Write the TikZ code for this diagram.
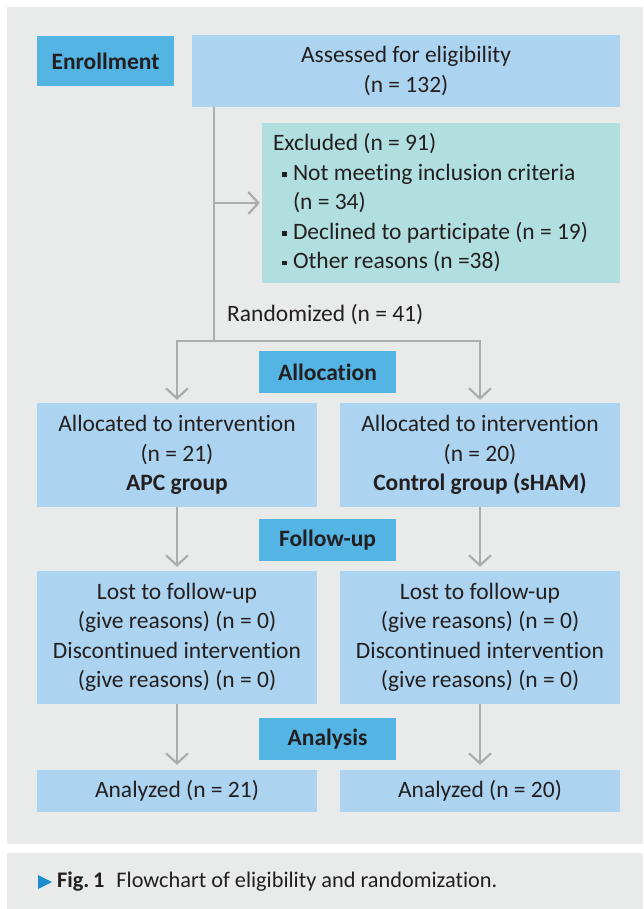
\documentclass[tikz,border=0pt]{standalone}
\usepackage{fontspec}
\setmainfont{Carlito}[Ligatures={NoCommon}]
\usetikzlibrary{arrows.meta}
\definecolor{panel}{RGB}{233,235,235}
\definecolor{phase}{RGB}{84,180,228}
\definecolor{boxblue}{RGB}{172,211,239}
\definecolor{boxteal}{RGB}{177,222,222}
\definecolor{linegray}{RGB}{172,172,172}
\definecolor{txt}{RGB}{35,31,32}
\definecolor{tri}{RGB}{27,140,208}
\newcommand{\sqb}{\makebox[11pt][l]{\raisebox{3.5pt}{\rule{4.5pt}{4.5pt}}}}
\begin{document}
\begin{tikzpicture}[x=1pt,y=-1pt,
  box/.style={rectangle, inner sep=0pt, align=center, text=txt, font=\fontsize{23.5}{29.5}\selectfont},
  phasebox/.style={box, fill=phase, font=\fontsize{23.5}{29.5}\selectfont\bfseries, minimum width=137pt, minimum height=42pt},
  bluebox/.style={box, fill=boxblue, minimum width=280pt},
  lineconn/.style={draw=linegray, line width=2.2pt},
  conn/.style={lineconn, -{Straight Barb[length=10pt,width=22pt]}},
]
\useasboundingbox (0,0) rectangle (643,909);
\fill[white] (0,0) rectangle (643,909);
\fill[panel] (7,7) rectangle (643,844);
\fill[panel] (7,853) rectangle (643,909);

% Enrollment
\node[phasebox, minimum height=50pt] (enroll) at (105.5,61) {Enrollment};
\node[box, fill=boxblue, minimum width=428pt, minimum height=72pt] (assess) at (406,71)
  {Assessed for eligibility\\(n = 132)};
\node[box, fill=boxteal, minimum width=358pt, minimum height=160pt, text width=336pt,
  inner xsep=11pt, align=flush left] (excl) at (441,203)
  {Excluded (n = 91)\\
   \hspace*{9pt}\sqb Not meeting inclusion criteria\\
   \hspace*{20pt}(n = 34)\\
   \hspace*{9pt}\sqb Declined to participate (n = 19)\\
   \hspace*{9pt}\sqb Other reasons (n =38)};
\node[anchor=west, inner sep=0pt, text=txt, font=\fontsize{23.5}{29.5}\selectfont] (rand) at (227,315)
  {Randomized (n = 41)};

% Allocation
\node[phasebox] (alloc) at (327.5,372) {Allocation};
\node[bluebox, minimum height=104pt] (allocL) at (177,455)
  {Allocated to intervention\\(n = 21)\\\textbf{APC group}};
\node[bluebox, minimum height=104pt] (allocR) at (480,455)
  {Allocated to intervention\\(n = 20)\\\textbf{Control group (sHAM)}};

% Follow-up
\node[phasebox] (follow) at (327.5,540) {Follow-up};
\node[bluebox, minimum height=133pt] (lostL) at (177,637.5)
  {Lost to follow-up\\(give reasons) (n = 0)\\Discontinued intervention\\(give reasons) (n = 0)};
\node[bluebox, minimum height=133pt] (lostR) at (480,637.5)
  {Lost to follow-up\\(give reasons) (n = 0)\\Discontinued intervention\\(give reasons) (n = 0)};

% Analysis
\node[phasebox] (analysis) at (327.5,739) {Analysis};
\node[bluebox, minimum height=42pt] (anaL) at (177,791) {Analyzed (n = 21)};
\node[bluebox, minimum height=42pt] (anaR) at (480,791) {Analyzed (n = 20)};

% Connectors
\coordinate (trunk) at (214,341);
\draw[lineconn] (assess.south -| trunk) -- (trunk);
\draw[conn] (excl.west -| trunk) -- ([xshift=-2pt]excl.west);
\draw[conn] (trunk) -| ([yshift=3pt]allocL.north);
\draw[conn] (trunk) -| ([yshift=3pt]allocR.north);
\draw[conn] (allocL.south) -- ([yshift=4pt]lostL.north);
\draw[conn] (allocR.south) -- ([yshift=4pt]lostR.north);
\draw[conn] (lostL.south) -- ([yshift=5pt]anaL.north);
\draw[conn] (lostR.south) -- ([yshift=5pt]anaR.north);

% Caption
\fill[tri] (38,875) -- (52,882) -- (38,889) -- cycle;
\node[anchor=west, inner sep=0pt, text=txt, font=\fontsize{22.3}{26}\selectfont] (cap) at (57,882)
  {\textbf{Fig.\,1}\hspace{12pt}Flowchart of eligibility and randomization.};
\end{tikzpicture}
\end{document}
